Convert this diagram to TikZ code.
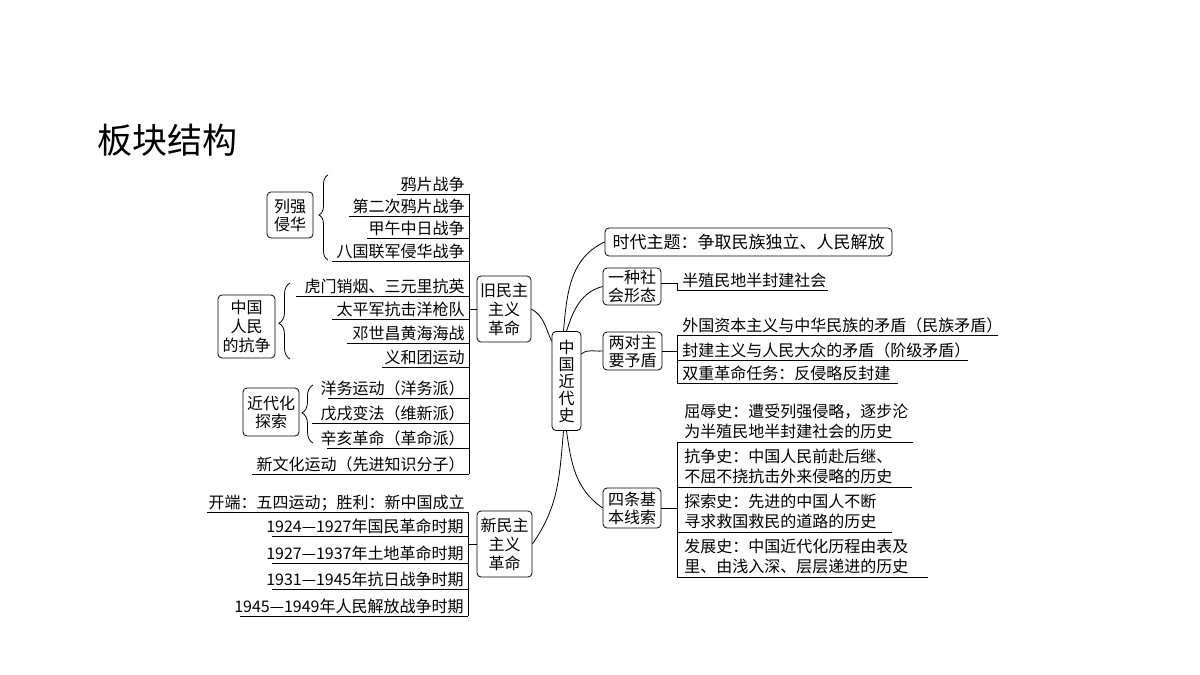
\documentclass[tikz,border=0pt]{standalone}
\usepackage{fontspec}
\setmainfont{Noto Sans CJK SC}
\usetikzlibrary{decorations.pathreplacing}
\newcommand\litem[4]{\node[litem] (#1) at (465,#2-4) {#4}; \draw (#3,#2) -- (469,#2);}
\newcommand\ritem[4]{\node[ritem] (#1) at (682,#2-4) {#4}; \draw (677,#2) -- (#3,#2);}
\newcommand\qitem[5]{\node[qitem] (#1) at (684,#2-3) {#4\\#5}; \draw (677,#2) -- (#3,#2);}
\begin{document}
\begin{tikzpicture}[x=1pt,y=-1pt,line width=0.8pt,
  litem/.style={anchor=base east,inner sep=0pt,font=\fontsize{16}{20}\selectfont},
  ritem/.style={anchor=base west,inner sep=0pt,font=\fontsize{16}{20}\selectfont},
  qitem/.style={anchor=south west,inner sep=0pt,align=left,font=\fontsize{16}{20}\selectfont},
  mbox/.style={draw,rounded corners=4pt,inner sep=0pt,align=center},
  three/.style={mbox,font=\fontsize{16}{19}\selectfont},
  two/.style={mbox,font=\fontsize{16}{18}\selectfont},
  brc/.style={decorate,decoration={brace,amplitude=#1}}]
\path[use as bounding box,fill=white] (0,0) rectangle (1200,675);

\node[font=\fontsize{35}{40}\selectfont] (title) at (167,140) {板块结构};

% left spine (old democratic)
\coordinate (s1t) at (469,194);
\coordinate (s1b) at (469,474);
\draw (s1t) -- (s1b);
\litem{a1}{194}{397}{鸦片战争}
\litem{a2}{216}{349}{第二次鸦片战争}
\litem{a3}{238}{367}{甲午中日战争}
\litem{a4}{261}{332}{八国联军侵华战争}
\litem{b1}{296}{296}{虎门销烟、三元里抗英}
\litem{b2}{319}{332}{太平军抗击洋枪队}
\litem{b3}{343}{347}{邓世昌黄海海战}
\litem{b4}{367}{382}{义和团运动}
\litem{c1}{398}{328}{洋务运动（洋务派）}
\litem{c2}{423}{312}{戊戌变法（维新派）}
\litem{c3}{448}{327}{辛亥革命（革命派）}
\litem{c4}{474}{252}{新文化运动（先进知识分子）}

\node[two,minimum width=46pt,minimum height=46pt] (lq) at (290,215) {列强\\侵华};
\node[three,minimum width=57pt,minimum height=63pt] (rm) at (246.5,326.5) {中国\\人民\\的抗争};
\node[two,minimum width=56pt,minimum height=48pt] (jd) at (271,412) {近代化\\探索};
\draw[brc=9pt,decoration={aspect=0.53}] (328,260) -- (328,175);
\draw[brc=11pt,decoration={aspect=0.47}] (290,359) -- (290,283);
\draw[brc=11pt,decoration={aspect=0.52}] (313,443) -- (313,385);

% new democratic spine
\coordinate (s2t) at (468,512);
\coordinate (s2b) at (468,616);
\draw (s2t) -- (s2b);
\node[litem] (d1) at (465,508) {开端：五四运动；胜利：新中国成立}; \draw (207,512) -- (468,512);
\node[litem] (d2) at (464,532) {1924—1927年国民革命时期}; \draw (272,536) -- (468,536);
\node[litem] (d3) at (464,559) {1927—1937年土地革命时期}; \draw (272,563) -- (468,563);
\node[litem] (d4) at (464,585) {1931—1945年抗日战争时期}; \draw (272,589) -- (468,589);
\node[litem] (d5) at (464,612) {1945—1949年人民解放战争时期}; \draw (240,616) -- (468,616);

% central boxes
\node[three,minimum width=54pt,minimum height=66pt] (jiu) at (504,309) {旧民主\\主义\\革命};
\node[three,minimum width=55pt,minimum height=66pt] (xin) at (504.5,544) {新民主\\主义\\革命};
\node[mbox,font=\fontsize{16}{17}\selectfont,minimum width=29pt,minimum height=99pt] (zg) at (566.5,381) {中\\国\\近\\代\\史};
\draw (jiu.west) -- (jiu.west -| s1t);
\draw (xin.west) -- (xin.west -| s2t);

% right boxes
\node[mbox,font=\fontsize{17}{20}\selectfont,minimum width=287pt,minimum height=28pt] (sd) at (748.5,242) {时代主题：争取民族独立、人民解放};
\node[two,minimum width=58pt,minimum height=37pt] (yz) at (632,286.5) {一种社\\会形态};
\node[two,minimum width=59pt,minimum height=38pt] (ld) at (632.5,351) {两对主\\要予盾};
\node[two,minimum width=58pt,minimum height=40pt] (sx) at (632,508) {四条基\\本线索};

% curves
\draw (jiu.east) to[out=-30,in=115] ([yshift=-10pt]zg.north west);
\draw ([xshift=-3pt]zg.north) to[out=85,in=205] (sd.west);
\draw ([xshift=0pt]zg.north) to[out=72,in=195] (yz.west);
\draw ([yshift=27pt]zg.east) to[out=40,in=185] (ld.west);
\draw ([xshift=-3pt]zg.south) to[out=-95,in=55] (xin.east);
\draw ([xshift=0pt]zg.south) to[out=-82,in=145] (sx.west);

% right items
\coordinate (yzs) at (677,290);
\draw ([yshift=3.5pt]yz.east) -| (yzs) -- (828,290);
\node[ritem] (e1) at (682,286) {半殖民地半封建社会};

\coordinate (s3t) at (677,335);
\coordinate (s3b) at (677,383);
\draw (s3t) -- (s3b);
\draw (ld.east) -- (ld.east -| s3t);
\ritem{f1}{335}{998}{外国资本主义与中华民族的矛盾（民族矛盾）}
\ritem{f2}{360}{968}{封建主义与人民大众的矛盾（阶级矛盾）}
\ritem{f3}{383}{898}{双重革命任务：反侵略反封建}

\coordinate (s4t) at (677,442);
\coordinate (s4b) at (677,577);
\draw (s4t) -- (s4b);
\draw (sx.east) -- (sx.east -| s4t);
\qitem{g1}{442}{913}{屈辱史：遭受列强侵略，逐步沦}{为半殖民地半封建社会的历史}
\qitem{g2}{487}{912}{抗争史：中国人民前赴后继、}{不屈不挠抗击外来侵略的历史}
\qitem{g3}{532}{892}{探索史：先进的中国人不断}{寻求救国救民的道路的历史}
\qitem{g4}{577}{928}{发展史：中国近代化历程由表及}{里、由浅入深、层层递进的历史}
\end{tikzpicture}
\end{document}
